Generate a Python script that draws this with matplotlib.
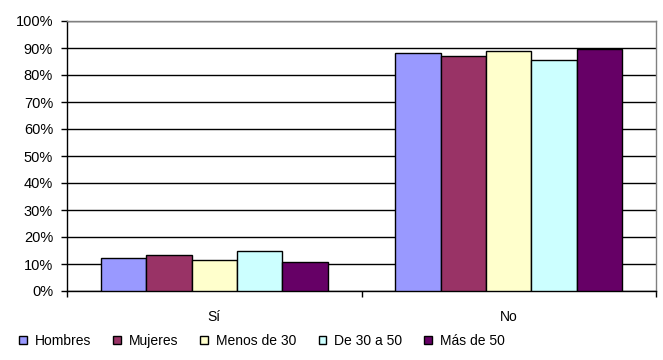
import numpy as np
import matplotlib
matplotlib.use('Agg')
import matplotlib.pyplot as plt
from matplotlib.ticker import PercentFormatter

plt.rcParams['font.family'] = ['Liberation Sans', 'DejaVu Sans']

categories = ['Sí', 'No']
series = ['Hombres', 'Mujeres', 'Menos de 30', 'De 30 a 50', 'Más de 50']
values = {
    'Hombres': [12.1, 88.0],
    'Mujeres': [13.3, 86.9],
    'Menos de 30': [11.4, 88.8],
    'De 30 a 50': [14.7, 85.4],
    'Más de 50': [10.6, 89.5],
}
colors = ['#9999FF', '#993366', '#FFFFCC', '#CCFFFF', '#660066']

fig = plt.figure(figsize=(6.63, 3.6), dpi=100)
ax = fig.add_axes([67 / 663, 1 - 291 / 360, (656 - 67) / 663, 270 / 360])

x = np.arange(len(categories))
width = 0.1544
for i, name in enumerate(series):
    ax.bar(x + (i - 2) * width, values[name], width, color=colors[i],
           edgecolor='black', linewidth=1.0, label=name, zorder=3)

ax.set_xlim(-0.5, 1.5)
ax.set_ylim(0, 100)
ax.set_yticks(np.arange(0, 101, 10))
ax.yaxis.set_major_formatter(PercentFormatter(decimals=0))
ax.yaxis.grid(True, color='black', linewidth=1.0, zorder=0)

ax.set_xticks(x)
ax.set_xticklabels(categories)
ax.set_xticks([-0.5, 0.5, 1.5], minor=True)
ax.tick_params(axis='x', which='major', length=0, pad=14, labelsize=10)
ax.tick_params(axis='x', which='minor', length=4, width=1.0, direction='out')
ax.tick_params(axis='y', length=4, width=1.0, pad=6, labelsize=10.5)

ax.spines['left'].set_color('black')
ax.spines['bottom'].set_color('black')
ax.spines['top'].set_color('#808080')
ax.spines['right'].set_color('#808080')
for s in ax.spines.values():
    s.set_linewidth(1.0)

fig.legend(loc='center left', bbox_to_anchor=(12 / 663, 1 - 341 / 360),
           ncol=5, frameon=False, fontsize=10, handlelength=0.55,
           handleheight=0.55, handletextpad=0.6, columnspacing=1.57,
           borderpad=0)

fig.savefig('out.png', dpi=100, facecolor='white')
